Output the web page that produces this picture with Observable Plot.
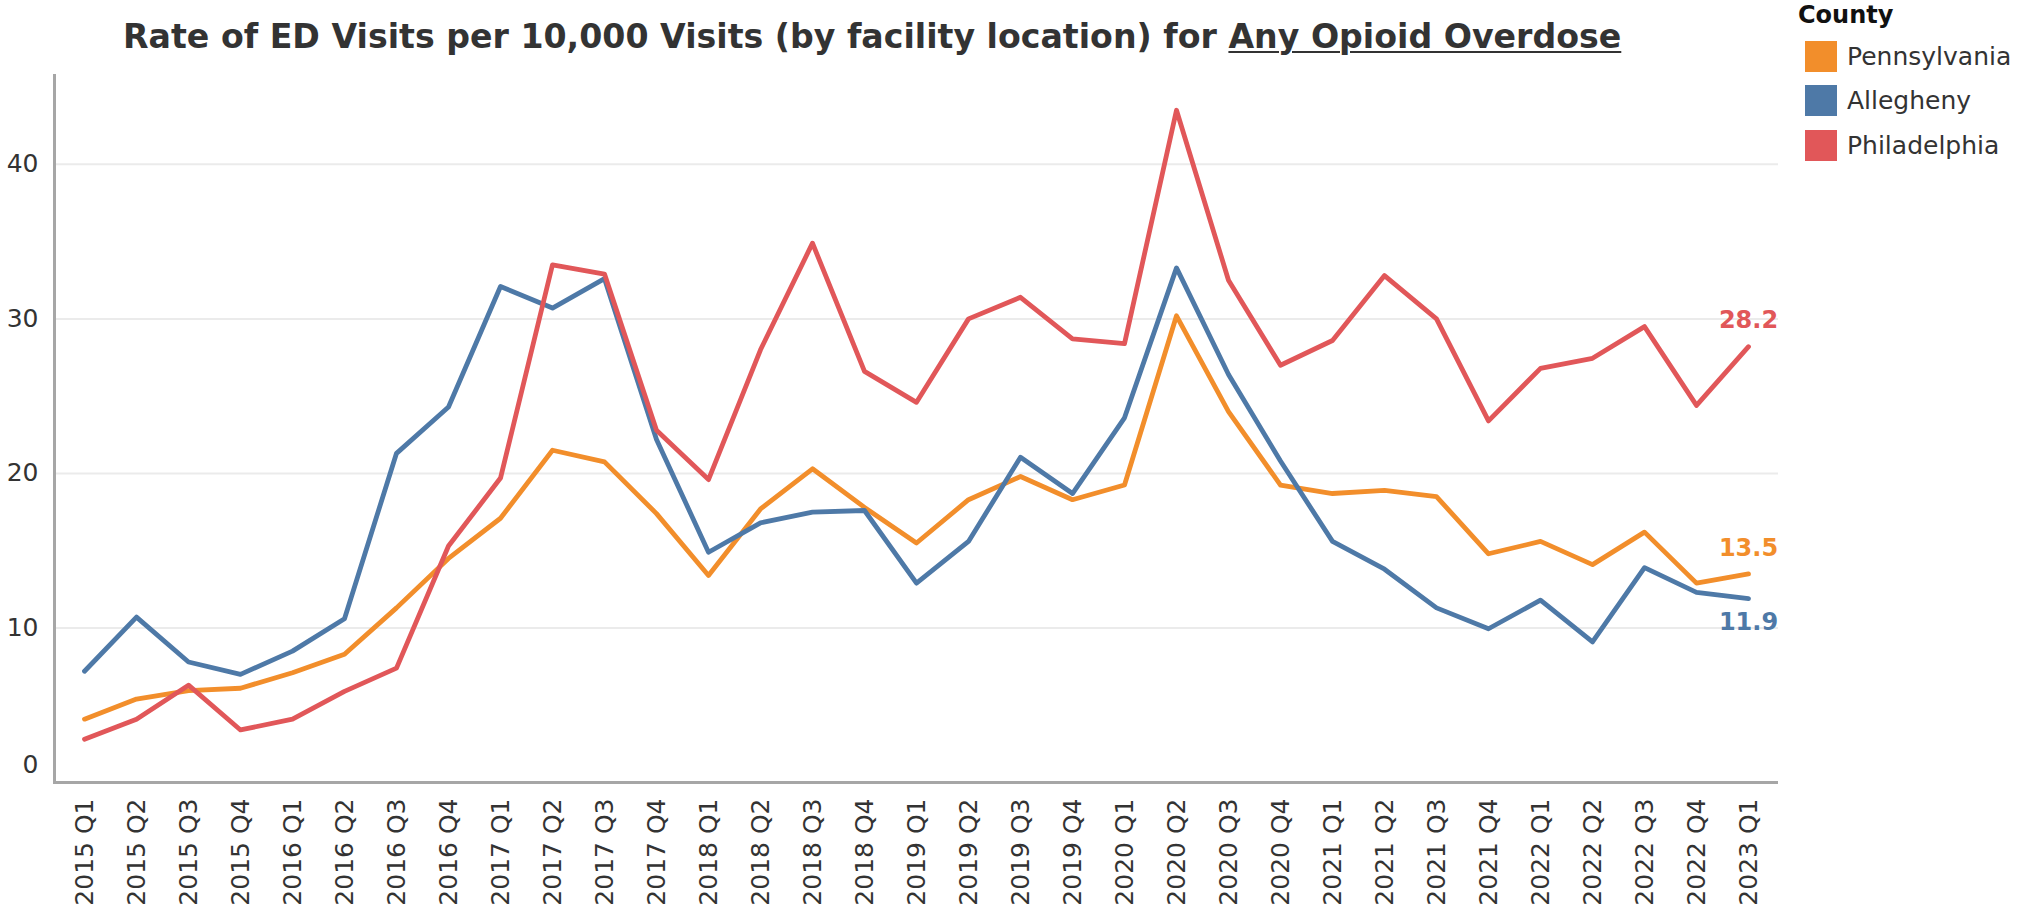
<!DOCTYPE html>
<html>
<head>
<meta charset="utf-8">
<script src="https://cdn.jsdelivr.net/npm/d3@7"></script>
<script src="https://cdn.jsdelivr.net/npm/@observablehq/plot@0.6"></script>
<style>
  html, body { margin: 0; padding: 0; background: #fff; }
  #wrap { position: relative; width: 2023px; height: 915px; overflow: hidden; font-family: "DejaVu Sans", Verdana, sans-serif; }
  #title { height: 60px; line-height: 60px; padding-left: 123px; font-size: 33.2px; font-weight: bold; color: #333; white-space: nowrap; }
  #title span.t { position: relative; top: 7px; }
  #title u { text-decoration-thickness: 2px; text-underline-offset: 3px; }
  #legend { position: absolute; left: 1798px; top: 0px; color: #333; }
  #legend .head { font-size: 24px; font-weight: bold; color: #111; line-height: 30px; height: 34px; }
  #legend .item { display: flex; align-items: center; height: 44.5px; }
  #legend .sw { width: 32px; height: 31px; margin-left: 7px; margin-right: 10px; }
  #legend .lab { font-size: 25px; }
</style>
</head>
<body>
<div id="wrap">
  <div id="title"><span class="t">Rate of ED Visits per 10,000 Visits (by facility location) for <u>Any Opioid Overdose</u></span></div>
  <div id="chart"></div>
  <div id="legend"></div>
</div>
<script>
const quarters = [
  "2015 Q1","2015 Q2","2015 Q3","2015 Q4",
  "2016 Q1","2016 Q2","2016 Q3","2016 Q4",
  "2017 Q1","2017 Q2","2017 Q3","2017 Q4",
  "2018 Q1","2018 Q2","2018 Q3","2018 Q4",
  "2019 Q1","2019 Q2","2019 Q3","2019 Q4",
  "2020 Q1","2020 Q2","2020 Q3","2020 Q4",
  "2021 Q1","2021 Q2","2021 Q3","2021 Q4",
  "2022 Q1","2022 Q2","2022 Q3","2022 Q4",
  "2023 Q1"
];
const pennsylvania = [4.1, 5.4, 5.95, 6.1, 7.1, 8.3, 11.3, 14.5, 17.1, 21.5, 20.75, 17.4, 13.4, 17.7, 20.3, 17.8, 15.5, 18.3, 19.8, 18.3, 19.25, 30.2, 24.0, 19.25, 18.7, 18.9, 18.5, 14.8, 15.6, 14.1, 16.2, 12.9, 13.5];
const allegheny = [7.2, 10.7, 7.8, 7.0, 8.5, 10.6, 21.3, 24.3, 32.1, 30.7, 32.6, 22.2, 14.9, 16.8, 17.5, 17.6, 12.9, 15.6, 21.05, 18.7, 23.6, 33.3, 26.4, 20.8, 15.6, 13.8, 11.3, 9.95, 11.8, 9.1, 13.9, 12.3, 11.9];
const philadelphia = [2.8, 4.1, 6.3, 3.4, 4.1, 5.9, 7.4, 15.3, 19.7, 33.5, 32.9, 22.8, 19.6, 28.0, 34.9, 26.6, 24.6, 30.0, 31.4, 28.7, 28.4, 43.5, 32.5, 27.0, 28.6, 32.8, 30.0, 23.4, 26.8, 27.45, 29.5, 24.4, 28.2];
const counties = ["Pennsylvania", "Allegheny", "Philadelphia"];
const countyColors = ["#f28e2b", "#4e79a7", "#e15759"];
const yTicks = [0, 10, 20, 30, 40];
const labelBelow = ["Allegheny"];

const seriesByCounty = { Pennsylvania: pennsylvania, Allegheny: allegheny, Philadelphia: philadelphia };
const data = counties.flatMap(c => seriesByCounty[c].map((v, i) => ({ quarter: quarters[i], county: c, value: v })));
const lastQuarter = quarters[quarters.length - 1];
const endPoints = data.filter(d => d.quarter === lastQuarter);
const endAbove = endPoints.filter(d => !labelBelow.includes(d.county));
const endBelow = endPoints.filter(d => labelBelow.includes(d.county));

const chart = Plot.plot({
  width: 1790,
  height: 855,
  marginLeft: 54,
  marginRight: 12,
  marginTop: 15,
  marginBottom: 133,
  style: { fontFamily: "DejaVu Sans, Verdana, sans-serif", fontSize: "25px", color: "#333", background: "#fff", overflow: "visible" },
  x: { type: "point", domain: quarters, padding: 0.5, label: null },
  y: { domain: [0, 45.75], label: null },
  color: { domain: counties, range: countyColors },
  marks: [
    Plot.gridY(yTicks.filter(t => t > 0), { stroke: "#ebebeb", strokeOpacity: 1, strokeWidth: 2 }),
    Plot.axisY(yTicks.filter(t => t > 0), { tickSize: 0, tickPadding: 16, label: null }),
    Plot.axisY(yTicks.filter(t => t === 0), { tickSize: 0, tickPadding: 16, label: null, dy: -18 }),
    Plot.axisX(quarters, { tickSize: 0, tickPadding: 16, tickRotate: -90, label: null }),
    Plot.ruleY([0], { stroke: "#a6a6a6", strokeWidth: 3 }),
    Plot.frame({ anchor: "left", stroke: "#a6a6a6", strokeWidth: 3 }),
    Plot.lineY(data, { x: "quarter", y: "value", stroke: "county", strokeWidth: 4.8 }),
    Plot.text(endAbove, { x: "quarter", y: "value", text: d => d.value.toFixed(1), fill: "county", dy: -26, fontWeight: "bold", fontSize: 24 }),
    Plot.text(endBelow, { x: "quarter", y: "value", text: d => d.value.toFixed(1), fill: "county", dy: 24, fontWeight: "bold", fontSize: 24 })
  ]
});
document.getElementById("chart").appendChild(chart);

const legend = document.getElementById("legend");
const head = document.createElement("div");
head.className = "head";
head.textContent = "County";
legend.appendChild(head);
counties.forEach((c, i) => {
  const item = document.createElement("div");
  item.className = "item";
  const sw = document.createElement("div");
  sw.className = "sw";
  sw.style.background = countyColors[i];
  const lab = document.createElement("span");
  lab.className = "lab";
  lab.textContent = c;
  item.appendChild(sw);
  item.appendChild(lab);
  legend.appendChild(item);
});
</script>
</body>
</html>
